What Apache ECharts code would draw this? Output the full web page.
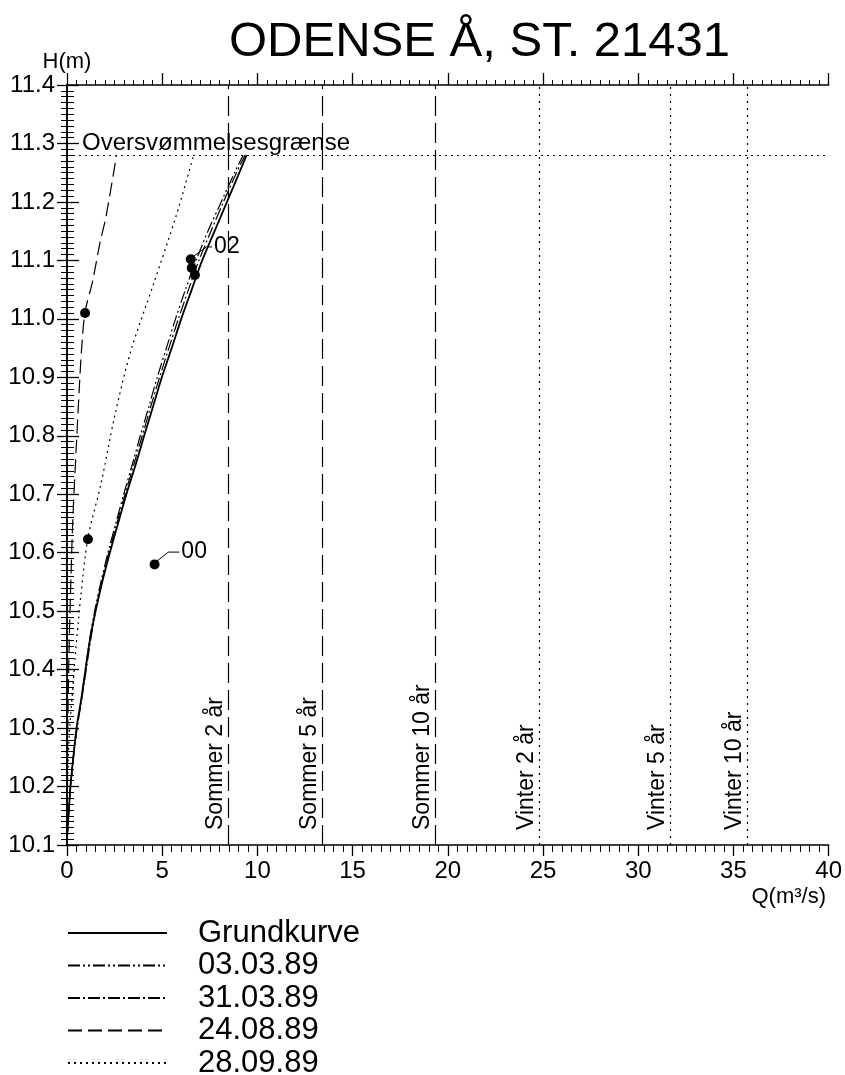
<!DOCTYPE html>
<html>
<head>
<meta charset="utf-8">
<script src="https://cdn.jsdelivr.net/npm/echarts@6/dist/echarts.min.js"></script>
<style>
html,body{margin:0;padding:0;background:#fff;}
#chart{width:845px;height:1075px;}
</style>
</head>
<body>
<div id="chart"></div>
<script>
// ---- data ----
const titleText = 'ODENSE Å, ST. 21431';
const xTicks = [0, 5, 10, 15, 20, 25, 30, 35, 40];
const yTicks = [10.1, 10.2, 10.3, 10.4, 10.5, 10.6, 10.7, 10.8, 10.9, 11.0, 11.1, 11.2, 11.3, 11.4];

// Grundkurve
const grundH = [10.11,10.15,10.2,10.25,10.3,10.35,10.4,10.45,10.5,10.55,10.6,10.65,10.7,10.75,10.8,10.85,10.9,10.95,11.0,11.05,11.1,11.15,11.2,11.25,11.28];
const grundQ = [0,0.08,0.18,0.33,0.5,0.75,0.97,1.2,1.5,1.85,2.25,2.68,3.12,3.6,4.05,4.52,4.98,5.5,6.0,6.55,7.1,7.75,8.4,9.05,9.43];
// 03.03.89
const k0303H = grundH;
const k0303Q = [0,0.08,0.18,0.33,0.52,0.76,0.97,1.18,1.45,1.78,2.15,2.56,2.98,3.42,3.85,4.3,4.74,5.22,5.7,6.22,6.78,7.4,8.1,8.8,9.25];
// 31.03.89
const k3103H = grundH;
const k3103Q = [0,0.08,0.19,0.34,0.53,0.78,1.01,1.24,1.5,1.83,2.2,2.62,3.05,3.5,3.95,4.4,4.86,5.35,5.85,6.38,6.93,7.56,8.22,8.9,9.35];
// 24.08.89
const k2408H = [10.12,10.3,10.45,10.55,10.66,10.776,10.89,10.95,11.012,11.065,11.13,11.175,11.28];
const k2408Q = [0,0.04,0.12,0.2,0.31,0.48,0.66,0.77,0.95,1.35,1.73,2.05,2.6];
// 28.09.89
const k2809H = [10.15,10.25,10.31,10.365,10.42,10.48,10.525,10.625,10.72,10.833,10.945,11.06,11.175,11.28];
const k2809Q = [0,0.07,0.16,0.3,0.42,0.59,0.72,1.1,1.8,2.5,3.35,4.55,5.72,6.65];

// measurements
const ptQ = [0.95, 1.1, 4.6, 6.5, 6.55, 6.72];
const ptH = [11.01, 10.623, 10.58, 11.102, 11.087, 11.075];

// label leaders
const lead02Q = [6.6, 7.33, 7.62];
const lead02H = [11.106, 11.123, 11.123];
const lead00Q = [4.7, 5.32, 5.9];
const lead00H = [10.585, 10.601, 10.601];

// reference lines
const refNames = ['Sommer 2 år','Sommer 5 år','Sommer 10 år','Vinter 2 år','Vinter 5 år','Vinter 10 år'];
const refQ = [8.45, 13.4, 19.35, 24.8, 31.7, 35.7];
const floodH = 11.28;
const floodName = 'Oversvømmelsesgrænse';

const legendNames = ['Grundkurve','03.03.89','31.03.89','24.08.89','28.09.89'];

// ---- build ----
const FONT = '"Liberation Sans", Arial, Helvetica, sans-serif';
const zip = (q, h) => q.map((v, i) => [v, h[i]]);

const axisLine = {show: true, lineStyle: {color: '#000', width: 1.5}};
function xAx(pos, showLabel, majorLen, minorLen) {
  return {
    type: 'value', position: pos, min: 0, max: 40, interval: 5,
    axisLine: axisLine,
    axisTick: {show: true, inside: false, length: majorLen, lineStyle: {color: '#000', width: 1.3}},
    minorTick: {show: true, splitNumber: 10, length: minorLen, lineStyle: {color: '#000', width: 1}},
    axisLabel: {show: showLabel, color: '#000', fontSize: 24, fontFamily: FONT, margin: 14},
    splitLine: {show: false}, minorSplitLine: {show: false}
  };
}
function yAx(pos, showLabel, majorLen, minorLen, name) {
  return {
    type: 'value', position: pos, min: 10.1, max: 11.4, interval: 0.1,
    name: name || '', nameLocation: 'end', nameGap: 12,
    nameTextStyle: {color: '#000', fontSize: 22, fontFamily: FONT},
    axisLine: axisLine,
    axisTick: {show: true, inside: false, length: majorLen, lineStyle: {color: '#000', width: 1.3}},
    minorTick: {show: true, splitNumber: 10, length: minorLen, lineStyle: {color: '#000', width: 1}},
    axisLabel: {show: showLabel, color: '#000', fontSize: 24, fontFamily: FONT, margin: 12,
      formatter: v => v.toFixed(1)},
    splitLine: {show: false}, minorSplitLine: {show: false}
  };
}

function curve(name, q, h, type, width) {
  return {
    name: name, type: 'line', data: zip(q, h), symbol: 'none', showSymbol: false,
    smooth: 0.3, lineStyle: {color: '#000', width: width, type: type},
    itemStyle: {color: '#000'}, silent: true, z: 3
  };
}

const markData = [{
  yAxis: floodH,
  lineStyle: {type: [2, 4], width: 1, color: '#000'},
  label: {show: true, formatter: floodName, position: 'insideStartTop', distance: [15, 0],
    color: '#000', fontSize: 24, fontFamily: FONT}
}].concat(refQ.map((q, i) => ({
  xAxis: q,
  lineStyle: i < 3 ? {type: [20, 7], width: 1.2, color: '#000'} : {type: [2, 5], width: 1.2, color: '#000'},
  label: {show: true, formatter: refNames[i], position: 'insideStartTop', distance: [15, 1],
    color: '#000', fontSize: 23, fontFamily: FONT}
})));

const option = {
  animation: false,
  backgroundColor: '#fff',
  title: {text: titleText, left: 224, top: 13,
    textStyle: {fontSize: 49, fontWeight: 'normal', color: '#000', fontFamily: FONT}},
  grid: {left: 67, right: 16, top: 85, bottom: 230},
  xAxis: [xAx('bottom', true, 11, 7), xAx('top', false, 12, 5)],
  yAxis: [yAx('left', true, 10, 6, 'H(m)'), yAx('right', false, 12, 7)],
  legend: {
    data: legendNames, orient: 'vertical', left: 67, top: 917, height: 170, padding: 0,
    itemWidth: 99, itemHeight: 14, itemGap: 0.5, selectedMode: false,
    itemStyle: {color: 'rgba(0,0,0,0)', borderColor: 'rgba(0,0,0,0)', borderWidth: 0, opacity: 0},
    lineStyle: {opacity: 1},
    textStyle: {color: '#000', fontSize: 31, fontFamily: FONT, padding: [0, 0, 0, 26], lineHeight: 32}
  },
  graphic: [{
    type: 'text', right: 19, top: 886,
    style: {text: 'Q(m³/s)', fill: '#000', font: '22px ' + FONT}
  }],
  series: [
    curve('Grundkurve', grundQ, grundH, 'solid', 1.8),
    curve('03.03.89', k0303Q, k0303H, [12, 3, 2, 3, 2, 3], 1.2),
    curve('31.03.89', k3103Q, k3103H, [12, 3, 2, 3], 1.2),
    curve('24.08.89', k2408Q, k2408H, [14, 6], 1.2),
    curve('28.09.89', k2809Q, k2809H, [2, 4], 1.2),
    {
      name: 'Målinger', type: 'scatter', data: zip(ptQ, ptH), symbol: 'circle', symbolSize: 10,
      itemStyle: {color: '#000', opacity: 1}, silent: true, z: 6,
      markLine: {silent: true, symbol: ['none', 'none'], animation: false, data: markData}
    },
    {
      name: 'lead02', type: 'line', data: zip(lead02Q, lead02H), symbol: 'none', silent: true,
      lineStyle: {color: '#000', width: 1},
      endLabel: {show: true, formatter: '02', distance: 2, color: '#000', fontSize: 23, fontFamily: FONT}
    },
    {
      name: 'lead00', type: 'line', data: zip(lead00Q, lead00H), symbol: 'none', silent: true,
      lineStyle: {color: '#000', width: 1},
      endLabel: {show: true, formatter: '00', distance: 2, color: '#000', fontSize: 23, fontFamily: FONT}
    }
  ]
};

const chart = echarts.init(document.getElementById('chart'), null, {renderer: 'canvas'});
chart.setOption(option);
</script>
</body>
</html>
